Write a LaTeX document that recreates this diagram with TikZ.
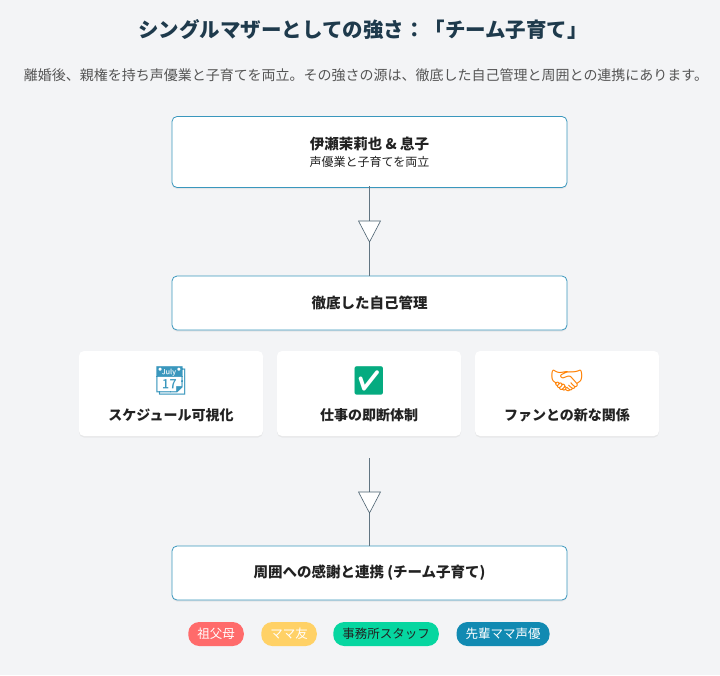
\documentclass[tikz,border=0pt]{standalone}
\usepackage{fontspec}
\setmainfont{Noto Sans CJK JP}
\newfontfamily\emo{Noto Emoji}
\usetikzlibrary{shadows,calc}
\definecolor{bg}{HTML}{F3F4F6}
\definecolor{ttl}{HTML}{1E3A4C}
\definecolor{bord}{HTML}{3A97BD}
\definecolor{txt}{HTML}{222222}
\definecolor{sub}{HTML}{555555}
\definecolor{pr}{HTML}{FF6B6B}
\definecolor{py}{HTML}{FFD166}
\definecolor{pg}{HTML}{06D6A0}
\definecolor{pb}{HTML}{118AB2}
\tikzset{x=1pt,y=-1pt,
 mainbox/.style={draw=bord,line width=0.8pt,fill=white,rounded corners=5pt,minimum width=395pt,text=txt,font=\bfseries\fontsize{14.5}{17}\selectfont,drop shadow={shadow xshift=0pt,shadow yshift=-1.5pt,opacity=0.12}},
 card/.style={fill=white,rounded corners=5pt,minimum width=184pt,minimum height=85pt,drop shadow={shadow xshift=0pt,shadow yshift=-1.5pt,opacity=0.1}},
 pill/.style={rounded corners=11pt,minimum height=24pt,inner xsep=9pt,font=\fontsize{12.5}{14}\selectfont},
 conn/.style={draw=ttl!70,line width=0.5pt},
 tri/.style={draw=ttl!80,fill=white,line width=0.6pt}}
\begin{document}
\begin{tikzpicture}
\fill[bg] (0,0) rectangle (720,675);
\useasboundingbox (0,0) rectangle (720,675);
\node[text=ttl,font=\bfseries\fontsize{20.5}{24}\selectfont] (title) at (363,30) {シングルマザーとしての強さ：「チーム子育て」};
\node[text=sub,font=\fontsize{14}{16}\selectfont] (subt) at (366,75) {離婚後、親権を持ち声優業と子育てを両立。その強さの源は、徹底した自己管理と周囲との連携にあります。};
\node[mainbox,minimum height=71pt,align=center] (b1) at (369.5,152) {伊瀬茉莉也 \& 息子\\[0pt]{\mdseries\fontsize{12}{14}\selectfont 声優業と子育てを両立}};
\node[mainbox,minimum height=54pt] (b2) at (369.5,303) {徹底した自己管理};
\node[mainbox,minimum height=54pt] (b3) at (369.5,573) {周囲への感謝と連携 (チーム子育て)};
\draw[conn] (369.5,186) -- (b2.north);
\coordinate (t1) at (369.5,231);
\draw[tri] ($(t1)+(-11,-10)$) -- ($(t1)+(11,-10)$) -- ($(t1)+(0,11)$) -- cycle;
\coordinate (c1) at (369.5,458);
\draw[conn] (c1) -- (b3.north);
\coordinate (t2) at (369.5,502);
\draw[tri] ($(t2)+(-11,-10)$) -- ($(t2)+(11,-10)$) -- ($(t2)+(0,11)$) -- cycle;
\foreach \n/\x/\e/\c/\l in {k1/171/📆/bord/スケジュール可視化,k2/369/✅/pg!80!black/仕事の即断体制,k3/567/🤝/orange/ファンとの新な関係}{
 \node[card] (\n) at (\x,393.5) {};
 \node[text=\c,font=\emo\fontsize{28}{30}\selectfont] (\n e) at (\x,381) {\e};
 \node[text=txt,font=\bfseries\fontsize{14}{16}\selectfont] (\n t) at (\x,415) {\l};
}
\node[pill,fill=pr,text=white] (p1) at (216,634) {祖父母};
\node[pill,fill=py,text=white] (p2) at (289,634) {ママ友};
\node[pill,fill=pg,text=txt] (p3) at (386,634) {事務所スタッフ};
\node[pill,fill=pb,text=white] (p4) at (503,634) {先輩ママ声優};
\end{tikzpicture}
\end{document}
